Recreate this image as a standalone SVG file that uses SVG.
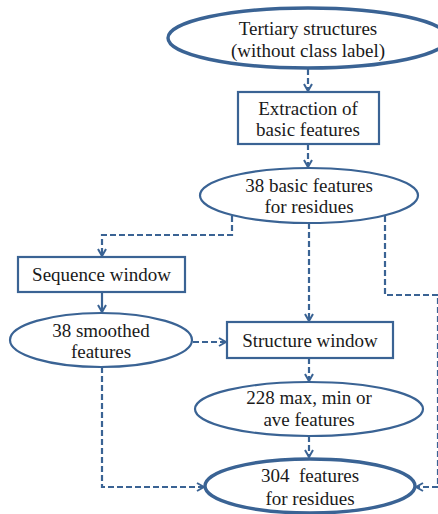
<svg xmlns="http://www.w3.org/2000/svg" width="438" height="514" viewBox="0 0 438 514">
<defs>
<style>
.n{fill:#fff;stroke:#3A6394;stroke-width:2.2}
.b{stroke-width:3.4}
.t{font-size:19px;fill:#1a1a1a;text-anchor:middle;font-family:"Liberation Serif","Times New Roman",Times,serif}
.c{fill:none;stroke:#3A6394;stroke-width:2.2}
.d{stroke-dasharray:6 3}
</style>
<marker id="a" viewBox="0 0 10 10" refX="9" refY="5" markerWidth="10" markerHeight="10" markerUnits="userSpaceOnUse" orient="auto">
<path d="M2,1 L9,5 L2,9" fill="none" stroke="#3A6394" stroke-width="2"/>
</marker>
</defs>
<rect width="438" height="514" fill="#fff"/>
<g id="connectors">
<path class="c d" d="M308,69 V91" marker-end="url(#a)"/>
<path class="c d" d="M308,144 V167" marker-end="url(#a)"/>
<path class="c d" d="M232,216 V235 H102 V256" marker-end="url(#a)"/>
<path class="c" d="M102,292 V312" marker-end="url(#a)"/>
<path class="c d" d="M193,342 H226" marker-end="url(#a)"/>
<path class="c d" d="M309,223 V321" marker-end="url(#a)"/>
<path class="c d" d="M309,358 V381" marker-end="url(#a)"/>
<path class="c d" d="M309,436 V457" marker-end="url(#a)"/>
<path class="c d" d="M102,367 V487 H204" marker-end="url(#a)"/>
<path class="c d" d="M385,216 V295 H438 V487 H416" marker-end="url(#a)"/>
</g>
<g id="n1">
<ellipse class="n b" cx="308" cy="38" rx="140" ry="30"/>
<text class="t" x="308" y="35">Tertiary structures</text>
<text class="t" x="308" y="57">(without class label)</text>
</g>
<g id="n2">
<rect class="n" x="238" y="92" width="141" height="52"/>
<text class="t" x="308" y="115">Extraction of</text>
<text class="t" x="308" y="136">basic features</text>
</g>
<g id="n3">
<ellipse class="n" cx="309" cy="195.5" rx="109" ry="27.5"/>
<text class="t" x="309" y="192">38 basic features</text>
<text class="t" x="309" y="213">for residues</text>
</g>
<g id="n4">
<rect class="n" x="18" y="257" width="167" height="35"/>
<text class="t" x="101.5" y="281">Sequence window</text>
</g>
<g id="n5">
<ellipse class="n" cx="101" cy="340" rx="91" ry="27"/>
<text class="t" x="101" y="337">38 smoothed</text>
<text class="t" x="101" y="358">features</text>
</g>
<g id="n6">
<rect class="n" x="227" y="322" width="166" height="36"/>
<text class="t" x="310" y="347">Structure window</text>
</g>
<g id="n7">
<ellipse class="n" cx="309" cy="409" rx="114" ry="27"/>
<text class="t" x="309" y="404">228 max, min or</text>
<text class="t" x="309" y="426">ave features</text>
</g>
<g id="n8">
<ellipse class="n b" cx="310" cy="486" rx="105" ry="27"/>
<text class="t" x="310" y="482" xml:space="preserve">304  features</text>
<text class="t" x="310" y="505">for residues</text>
</g>
</svg>
